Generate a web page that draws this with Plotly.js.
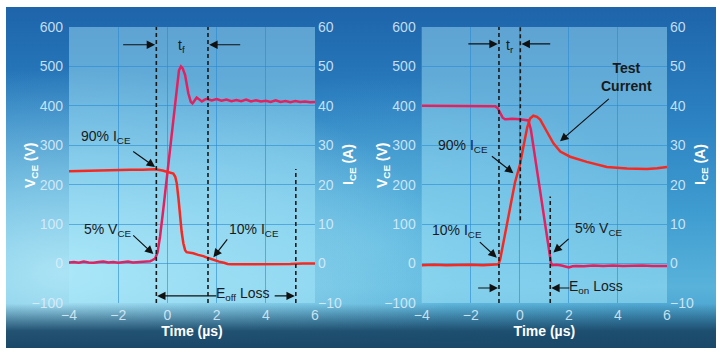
<!DOCTYPE html>
<html>
<head>
<meta charset="utf-8">
<script src="https://cdn.plot.ly/plotly-3.0.1.min.js"></script>
<style>
  html, body { margin: 0; padding: 0; background: #ffffff; }
  #wrap { position: relative; width: 720px; height: 352px; overflow: hidden; }
  #bg {
    position: absolute; left: 6px; top: 7px; width: 710px; height: 341px;
    background:
      linear-gradient(to bottom, rgba(24,68,100,0) 0%, rgba(24,68,100,0) 87%, rgba(26,72,104,0.92) 95%, rgba(26,72,104,1) 100%),
      radial-gradient(ellipse 55% 60% at 8% 78%, rgba(175,230,246,0.95), rgba(175,230,246,0) 100%),
      radial-gradient(ellipse 40% 50% at 52% 70%, rgba(120,205,235,0.6), rgba(120,205,235,0) 100%),
      linear-gradient(to bottom, #1e64ab 0%, #2a7fc0 30%, #3f9cd0 60%, #58b2da 82%, #3d94c2 100%);
  }
  #chart { position: absolute; left: 0; top: 0; width: 720px; height: 352px; }
</style>
</head>
<body>
<div id="wrap"><div id="bg"></div><div id="chart"></div></div>
<script>
// ---- Turn-off (left panel) ----
const tOffV = [-4,-3.8,-3.6,-3.4,-3.2,-3.0,-2.8,-2.6,-2.4,-2.2,-2.0,-1.8,-1.6,-1.4,-1.2,-1.0,-0.8,
  -0.7,-0.6,-0.5,-0.4,-0.3,-0.17,-0.03,0.1,0.2,0.3,0.4,0.47,0.55,0.62,0.72,0.85,0.95,1.02,1.1,1.19,1.28,1.4,1.5,
  1.6,1.8,2.0,2.2,2.4,2.6,2.8,3.0,3.2,3.4,3.6,3.8,4.0,4.2,4.4,4.6,4.8,5.0,5.2,5.4,5.6,5.8,6.0];
const vOff = [3,4,2,5,3,2,4,5,3,4,2,4,5,3,4,5,5,
  6,9,13,28,68,136,212,285,345,400,458,490,500,495,478,432,410,406,413,421,417,411,415,
  418,414,417,413,416,412,415,412,416,411,414,411,413,410,414,410,412,409,412,410,411,409,410];
const tOffI = [-4,-3.5,-3,-2.5,-2,-1.5,-1,-0.5,-0.2,0.05,0.24,0.32,0.38,0.45,0.51,0.58,0.65,0.72,0.78,0.9,1.05,1.25,1.46,1.66,1.87,2.1,2.3,2.45,2.6,3.0,3.5,4.0,4.5,5.0,5.5,6.0];
const iOff = [23.4,23.5,23.6,23.6,23.7,23.8,23.8,23.9,23.6,23.2,22.8,22.0,20.4,16.5,11.9,8.0,5.1,3.4,2.9,2.8,2.6,2.2,1.9,1.4,0.9,0.5,0.2,-0.1,-0.2,-0.2,-0.15,-0.2,-0.1,-0.1,0,0];

// ---- Turn-on (right panel) ----
const tOnV = [-4,-3.5,-3,-2.5,-2,-1.5,-1.0,-0.9,-0.8,-0.7,-0.6,-0.3,0,0.2,0.35,0.45,0.65,0.85,1.05,1.2,1.27,1.32,1.5,1.7,1.85,2.0,2.15,2.3,2.6,3.0,3.4,3.8,4.2,4.6,5.0,5.4,5.8,6.0];
const vOn = [400,400,399,400,400,399,399,394,382,370,366,367,366,365,363,340,255,170,85,25,2,-4,-3,-5,-8,-10,-7,-6,-7,-5,-6,-5,-6,-5,-5,-6,-5,-6];
const tOnI = [-4,-3.5,-3,-2.5,-2,-1.5,-1,-0.87,-0.8,-0.5,-0.2,0,0.15,0.3,0.42,0.55,0.7,0.83,1.1,1.37,1.65,2.05,2.73,3.55,4.37,5.18,5.6,6];
const iOn = [-0.4,-0.3,-0.4,-0.3,-0.3,-0.4,-0.3,-0.2,1.1,11,20.5,25,30,34.5,36.8,37.5,37.2,36.5,33.5,30.5,28.4,27.1,25.8,24.5,24.1,24.0,24.2,24.5];

// Axis ticks and titles
const timeTicks = [-4,-2,0,2,4,6];
const vTicks = [-100,0,100,200,300,400,500,600];
const iTicks = [-10,0,10,20,30,40,50,60];
const xTitle = 'Time (µs)';
const vTitle = 'V<sub>CE</sub> (V)';
const iTitle = 'I<sub>CE</sub> (A)';

// Marker lines (time, from V, to V)
const offMarkers = [[-0.45,-100,600],[1.65,-100,600],[5.22,-100,240]];
const onMarkers = [[-0.85,-100,600],[0.02,110,600],[1.24,-100,170]];

const FONT = 'Liberation Sans, Arial, sans-serif';
const VCOL = '#e3215f', ICOL = '#f42a22';
const tickFont = {family: FONT, size: 14, color: 'rgba(222,238,250,0.88)'};
const titleFont = {family: FONT, size: 14, color: '#ffffff', weight: 'bold'};
const gridCol = 'rgba(40,138,210,0.6)';

const traces = [
  {x: tOffI, y: iOff, xaxis: 'x', yaxis: 'y2', mode: 'lines', line: {color: ICOL, width: 2.5}, hoverinfo: 'skip'},
  {x: tOffV, y: vOff, xaxis: 'x', yaxis: 'y', mode: 'lines', line: {color: VCOL, width: 2.5}, hoverinfo: 'skip'},
  {x: tOnV, y: vOn, xaxis: 'x2', yaxis: 'y3', mode: 'lines', line: {color: VCOL, width: 2.5}, hoverinfo: 'skip'},
  {x: tOnI, y: iOn, xaxis: 'x2', yaxis: 'y4', mode: 'lines', line: {color: ICOL, width: 2.5}, hoverinfo: 'skip'}
];

const yDom = [1 - 303/352, 1 - 27/352];
function xAx(dom, anchor) {
  return {domain: dom, anchor: anchor, range: [-4, 6], tickvals: timeTicks, showgrid: true, gridcolor: gridCol, gridwidth: 1,
    zeroline: false, showline: false, ticks: '', tickfont: tickFont, ticklabelstandoff: 2, fixedrange: true,
    title: {text: xTitle, font: titleFont, standoff: 3}};
}
function yAxL(anchor) {
  return {domain: yDom, anchor: anchor, range: [-100, 600], tickvals: vTicks, showgrid: true, gridcolor: gridCol, gridwidth: 1,
    zeroline: false, showline: false, ticks: '', tickfont: tickFont, ticklabelstandoff: 5, fixedrange: true};
}
function yAxR(over, anchor) {
  return {overlaying: over, side: 'right', anchor: anchor, range: [-10, 60], tickvals: iTicks, showgrid: false,
    zeroline: false, showline: false, ticks: '', tickfont: tickFont, ticklabelstandoff: 2, fixedrange: true};
}

const shapes = [];
offMarkers.forEach(m => shapes.push({type: 'line', xref: 'x', yref: 'y', x0: m[0], x1: m[0], y0: m[1], y1: m[2],
  line: {color: '#1a1a1a', width: 1.6, dash: '4px,3px'}}));
onMarkers.forEach(m => shapes.push({type: 'line', xref: 'x2', yref: 'y3', x0: m[0], x1: m[0], y0: m[1], y1: m[2],
  line: {color: '#1a1a1a', width: 1.6, dash: '4px,3px'}}));

const annFont = {family: FONT, size: 14, color: '#1a1a1a'};
function label(xr, yr, x, y, text, bold) {
  return {xref: xr, yref: yr, x: x, y: y, text: text, showarrow: false, xanchor: 'center', yanchor: 'middle',
    font: Object.assign({}, annFont, bold ? {weight: 'bold'} : {})};
}
function arrow(xr, yr, x0, y0, x1, y1) {
  return {xref: xr, yref: yr, axref: xr, ayref: yr, x: x1, y: y1, ax: x0, ay: y0, text: '', showarrow: true,
    arrowhead: 2, arrowsize: 1.4, arrowwidth: 1.2, arrowcolor: '#111111'};
}
function yTitle(xpx, text) {
  return {xref: 'paper', yref: 'paper', x: xpx/720, y: 1 - 165/352, text: text, textangle: -90, showarrow: false,
    xanchor: 'center', yanchor: 'middle', font: titleFont};
}

const annotations = [
  // axis titles
  yTitle(31, vTitle), yTitle(349, iTitle), yTitle(383, vTitle), yTitle(701, iTitle),
  // left
  label('x','y', 0.58, 552, 't<sub>f</sub>'),
  arrow('x','y', -1.86, 555, -0.5, 555),
  arrow('x','y', 3.02, 555, 1.7, 555),
  label('x','y', -2.5, 320, '90% I<sub>CE</sub>'),
  arrow('x','y', -1.45, 287, -0.5, 245),
  label('x','y', -2.4, 84, '5% V<sub>CE</sub>'),
  arrow('x','y', -1.45, 75, -0.57, 24),
  label('x','y', 3.52, 84, '10% I<sub>CE</sub>'),
  arrow('x','y', 2.48, 65, 1.87, 16),
  label('x','y', 3.07, -77, 'E<sub>off</sub> Loss'),
  arrow('x','y', 2.05, -82, -0.42, -82),
  arrow('x','y', 4.3, -82, 5.18, -82),
  // right
  label('x2','y3', -0.4, 552, 't<sub>r</sub>'),
  arrow('x2','y3', -2.16, 557, -0.9, 557),
  arrow('x2','y3', 1.3, 557, 0.07, 557),
  label('x2','y3', 4.36, 472, 'Test<br>Current', true),
  arrow('x2','y3', 3.69, 421, 1.64, 310),
  label('x2','y3', -2.3, 297, '90% I<sub>CE</sub>'),
  arrow('x2','y3', -1.2, 275, -0.26, 229),
  label('x2','y3', -2.55, 83, '10% I<sub>CE</sub>'),
  arrow('x2','y3', -1.69, 58, -0.94, 15),
  label('x2','y3', 3.24, 88, '5% V<sub>CE</sub>'),
  arrow('x2','y3', 2.05, 66, 1.37, 28),
  label('x2','y3', 3.1, -60, 'E<sub>on</sub> Loss'),
  arrow('x2','y3', -1.76, -62, -0.89, -62),
  arrow('x2','y3', 2.08, -62, 1.28, -62)
];

const layout = {
  width: 720, height: 352,
  margin: {l: 0, r: 0, t: 0, b: 0, pad: 0},
  paper_bgcolor: 'rgba(0,0,0,0)',
  plot_bgcolor: 'rgba(170,236,252,0.45)',
  showlegend: false,
  xaxis: xAx([69/720, 315/720], 'y'),
  yaxis: yAxL('x'),
  yaxis2: yAxR('y', 'x'),
  xaxis2: xAx([421.7/720, 667/720], 'y3'),
  yaxis3: yAxL('x2'),
  yaxis4: yAxR('y3', 'x2'),
  shapes: shapes,
  annotations: annotations
};

Plotly.newPlot('chart', traces, layout, {displayModeBar: false, staticPlot: true});
</script>
</body>
</html>
